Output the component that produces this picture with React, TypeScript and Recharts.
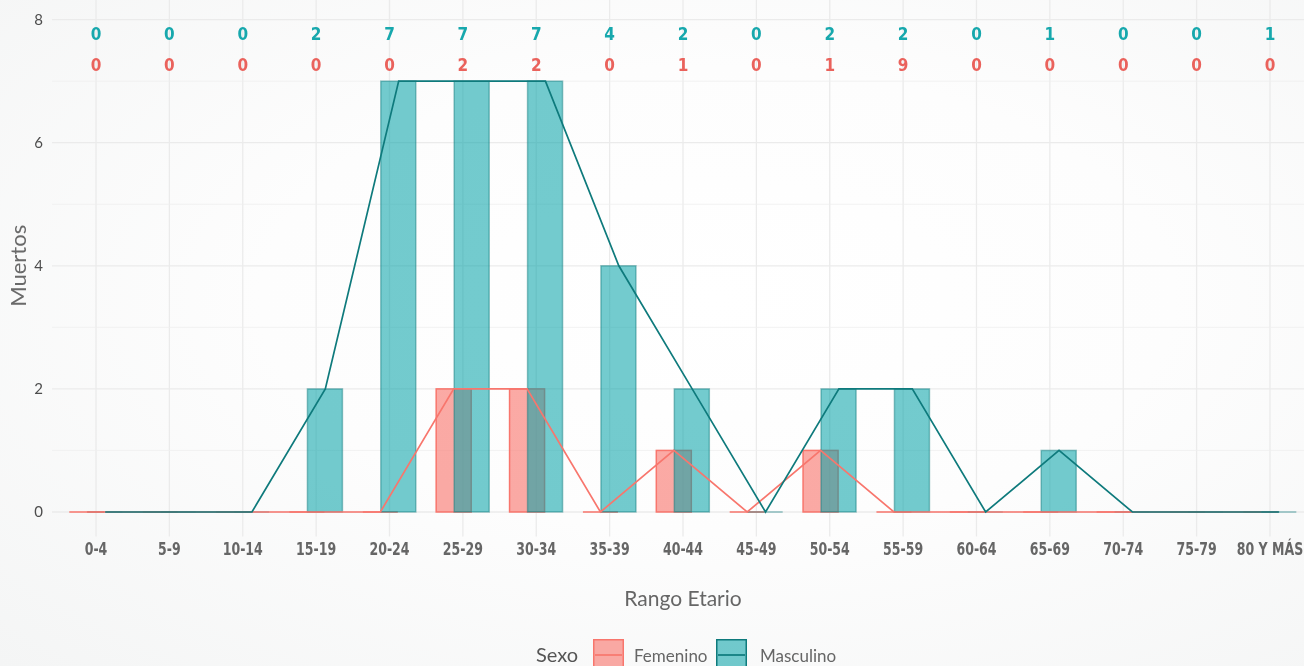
import React from 'react';
import { ComposedChart, Bar, Line, XAxis, YAxis, CartesianGrid, LabelList } from 'recharts';

const ageGroups = ['0-4', '5-9', '10-14', '15-19', '20-24', '25-29', '30-34', '35-39', '40-44', '45-49', '50-54', '55-59', '60-64', '65-69', '70-74', '75-79', '80 Y MÁS'];
const femaleDeaths = [0, 0, 0, 0, 0, 2, 2, 0, 1, 0, 1, 0, 0, 0, 0, 0, 0];
const maleDeaths = [0, 0, 0, 2, 7, 7, 7, 4, 2, 0, 2, 2, 0, 1, 0, 0, 0];
// counts printed along the top of the panel
const femaleTotals = [0, 0, 0, 0, 0, 2, 2, 0, 1, 0, 1, 9, 0, 0, 0, 0, 0];
const maleTotals = [0, 0, 0, 2, 7, 7, 7, 4, 2, 0, 2, 2, 0, 1, 0, 0, 1];
const yTicks = [0, 2, 4, 6, 8];
const yMinorTicks = [1, 3, 5, 7];

const Y_DOMAIN = [-0.4, 8.4];
const X_DOMAIN = [-0.6, ageGroups.length - 0.4];
const DODGE = 0.125;
const FEM = '#F8766D';
const FEM_FILL = 'rgba(248,118,109,0.62)';
const MASC_FILL = 'rgba(0,161,166,0.55)';
const MASC_LINE = '#0E7A7C';
const CONDENSED = '"Liberation Sans Narrow", "DejaVu Sans Condensed", sans-serif';
const SANS = 'Lato, "Open Sans", sans-serif';

const rows = ageGroups.map((group, i) => ({
  group,
  fx: i - DODGE,
  mx: i + DODGE,
  female: femaleDeaths[i],
  male: maleDeaths[i],
  fTop: femaleTotals[i],
  mTop: maleTotals[i],
}));

const barShape = (fill: string, stroke: string, strokeOpacity: number) => (props: any) => {
  const { x, y, width, height } = props;
  if (!height) {
    return <line x1={x} x2={x + width} y1={y} y2={y} stroke={stroke} strokeOpacity={strokeOpacity} strokeWidth={1.5} />;
  }
  return (
    <rect x={x} y={Math.min(y, y + height)} width={width} height={Math.abs(height)}
      fill={fill} stroke={stroke} strokeOpacity={strokeOpacity} strokeWidth={1.5} />
  );
};

const topLabel = (color: string, dy: number) => (props: any) => (
  <text x={props.x} y={props.y + dy} textAnchor="middle" dominantBaseline="central"
    fill={color} fontFamily={CONDENSED} fontWeight="bold" fontSize={17}>
    {props.value}
  </text>
);

// narrow the bold tick labels, the installed condensed face is still too wide
const AgeTick = (props: any) => (
  <g transform={`translate(${props.x},${props.y}) scale(0.82,1)`}>
    <text x={0} y={0} dy="0.71em" textAnchor="middle" fill="#666666"
      fontFamily={CONDENSED} fontWeight="bold" fontSize={17}>
      {props.payload.value}
    </text>
  </g>
);

const yPixels = (values: number[]) => ({ offset }: any) =>
  values.map((v) => offset.top + ((Y_DOMAIN[1] - v) / (Y_DOMAIN[1] - Y_DOMAIN[0])) * offset.height);

const xPixels = ({ offset }: any) =>
  ageGroups.map((_, i) => offset.left + ((i - X_DOMAIN[0]) / (X_DOMAIN[1] - X_DOMAIN[0])) * offset.width);

export default function App() {
  return (
    <div style={{
      position: 'fixed', left: 0, top: 0, width: 1304, height: 666, overflow: 'hidden',
      background: 'radial-gradient(ellipse at 55% 45%, #ffffff 0%, #fdfdfd 45%, #f4f5f5 100%)',
    }}>
      <div style={{ position: 'absolute', left: 0, top: -10 }}>
        <ComposedChart width={1320} height={676} data={rows} barGap={-17}
          margin={{ top: 5, right: 6, bottom: 74.4, left: 0 }}>
          <CartesianGrid stroke="#ebebeb" strokeWidth={1.3} horizontal={false}
            verticalCoordinatesGenerator={xPixels} />
          <CartesianGrid stroke="#ebebeb" strokeWidth={1.3} vertical={false}
            horizontalCoordinatesGenerator={yPixels(yTicks)} />
          <CartesianGrid stroke="#efefef" strokeWidth={0.8} vertical={false}
            horizontalCoordinatesGenerator={yPixels(yMinorTicks)} />
          <XAxis dataKey="group" padding={{ left: 7.3, right: 7.3 }} axisLine={false} tickLine={false}
            tickSize={0} tickMargin={6} height={55} interval={0} tick={<AgeTick />}
            label={{ value: 'Rango Etario', position: 'bottom', offset: -1, fontFamily: SANS, fontSize: 21, fill: '#666666' }} />
          <XAxis xAxisId="f" type="number" dataKey="fx" domain={X_DOMAIN} hide allowDataOverflow />
          <XAxis xAxisId="m" type="number" dataKey="mx" domain={X_DOMAIN} hide allowDataOverflow />
          <YAxis domain={Y_DOMAIN} ticks={yTicks} width={52} axisLine={false} tickLine={false}
            tickSize={0} tickMargin={9} allowDataOverflow
            tick={{ fontFamily: SANS, fontSize: 15, fill: '#4d4d4d' }}
            label={{ value: 'Muertos', angle: -90, position: 'insideLeft', offset: 18, fontFamily: SANS, fontSize: 22, fill: '#6a6a6a', style: { textAnchor: 'middle' } }} />
          <Bar dataKey="female" barSize={35} isAnimationActive={false}
            shape={barShape(FEM_FILL, FEM, 1)} />
          <Bar dataKey="male" barSize={35} isAnimationActive={false}
            shape={barShape(MASC_FILL, MASC_LINE, 0.45)} />
          <Line xAxisId="f" dataKey="female" type="linear" stroke={FEM} strokeWidth={1.7}
            dot={false} activeDot={false} isAnimationActive={false} />
          <Line xAxisId="m" dataKey="male" type="linear" stroke={MASC_LINE} strokeWidth={1.7}
            dot={false} activeDot={false} isAnimationActive={false} />
          <Line dataKey={() => yTicks[yTicks.length - 1]} stroke="none" dot={false} activeDot={false} isAnimationActive={false}>
            <LabelList dataKey="mTop" content={topLabel('#17A8AD', 14)} />
          </Line>
          <Line dataKey={() => yTicks[yTicks.length - 1]} stroke="none" dot={false} activeDot={false} isAnimationActive={false}>
            <LabelList dataKey="fTop" content={topLabel('#EA625C', 45)} />
          </Line>
        </ComposedChart>
      </div>
      <div style={{ position: 'absolute', left: 0, top: 638, width: 1304, height: 30, fontFamily: SANS }}>
        <span style={{ position: 'absolute', left: 536, top: 4, fontSize: 20, color: '#555555' }}>Sexo</span>
        <svg style={{ position: 'absolute', left: 593, top: 1 }} width={31} height={30}>
          <rect x={0.75} y={0.75} width={29.5} height={28.5} fill={FEM_FILL} stroke={FEM} strokeWidth={1.5} />
          <line x1={2} x2={29} y1={16} y2={16} stroke={FEM} strokeWidth={1.7} />
        </svg>
        <span style={{ position: 'absolute', left: 634, top: 7, fontSize: 17, color: '#666666' }}>Femenino</span>
        <svg style={{ position: 'absolute', left: 716, top: 1 }} width={31} height={30}>
          <rect x={0.75} y={0.75} width={29.5} height={28.5} fill={MASC_FILL} stroke={MASC_LINE} strokeWidth={1.5} />
          <line x1={2} x2={29} y1={16} y2={16} stroke={MASC_LINE} strokeWidth={1.7} />
        </svg>
        <span style={{ position: 'absolute', left: 760, top: 7, fontSize: 17, color: '#666666' }}>Masculino</span>
      </div>
    </div>
  );
}
